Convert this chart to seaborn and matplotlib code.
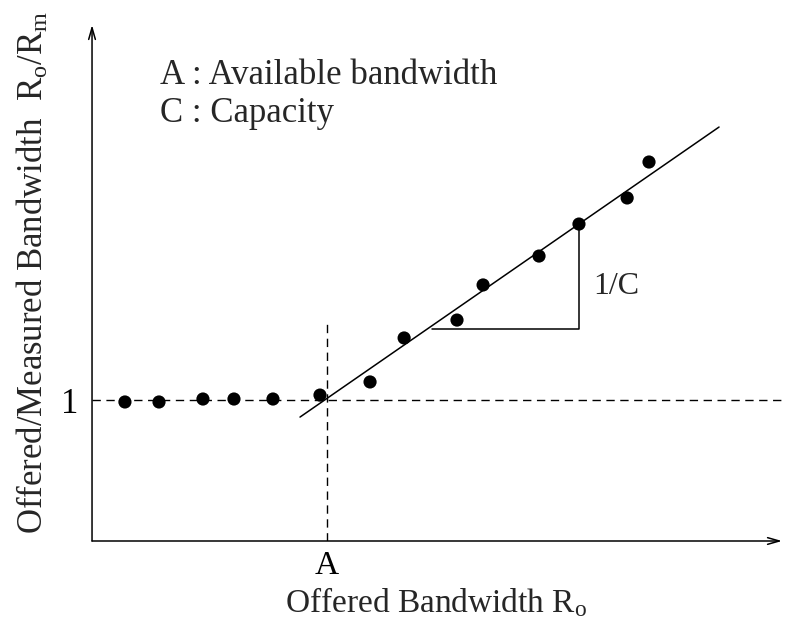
import matplotlib
matplotlib.use("Agg")
import matplotlib.pyplot as plt
import seaborn as sns
import pandas as pd

# measured points: offered rate (A = 1) vs offered/measured ratio
rate = [0.14, 0.285, 0.472, 0.604, 0.77, 0.97, 1.183, 1.328, 1.553, 1.664,
        1.902, 2.072, 2.277, 2.37]
ratio = [0.986, 0.986, 1.007, 1.007, 1.007, 1.035, 1.128, 1.44, 1.567, 1.816,
         2.021, 2.248, 2.433, 2.688]

# fitted line and slope triangle
fit_x = [0.885, 2.668]
fit_y = [0.879, 2.936]
tri_x = [1.447, 2.072, 2.072]
tri_y = [1.504, 1.504, 2.248]

# reference lines
avail_bw = 1.0
unit_ratio = 1.0

sns.set_theme(style="white")
plt.rcParams["font.family"] = ["Liberation Serif", "DejaVu Serif"]
plt.rcParams["mathtext.fontset"] = "custom"
plt.rcParams["mathtext.rm"] = "Liberation Serif"
plt.rcParams["mathtext.it"] = "Liberation Serif:italic"

fig, ax = plt.subplots(figsize=(7.92, 6.18), dpi=100)
ax.set_position([0.1162, 0.1246, 0.8712, 0.835])
ax.set_xlim(0, 2.936)
ax.set_ylim(0, 3.66)

points = pd.DataFrame({"rate": rate, "ratio": ratio})
fit = pd.DataFrame({"x": fit_x, "y": fit_y})

# dashed guide lines
ax.plot([0, 2.93], [unit_ratio, unit_ratio], color="black", lw=1.0,
        linestyle=(0, (6, 4)))
ax.plot([avail_bw, avail_bw], [0, 1.567], color="black", lw=1.0,
        linestyle=(0, (6, 4)))

sns.lineplot(data=fit, x="x", y="y", color="black", lw=1.1, ax=ax)
ax.plot(tri_x, tri_y, color="black", lw=1.1)
sns.scatterplot(data=points, x="rate", y="ratio", color="black", s=90,
                edgecolor="none", ax=ax, zorder=3)

# axes drawn as arrows
for sp in ax.spines.values():
    sp.set_visible(False)
arrow = dict(arrowstyle="->, head_length=0.7, head_width=0.2", lw=1.1,
             color="black", shrinkA=0, shrinkB=0)
ax.annotate("", xy=(1.0, 0), xytext=(0, 0), xycoords="axes fraction",
            arrowprops=arrow)
ax.annotate("", xy=(0, 1.0), xytext=(0, 0), xycoords="axes fraction",
            arrowprops=arrow)

ax.set_xticks([avail_bw])
ax.set_xticklabels(["A"], fontsize=24)
ax.set_yticks([unit_ratio])
ax.set_yticklabels(["1"], fontsize=25)
ax.tick_params(length=0, pad=10, colors="black")
ax.tick_params(axis="x", pad=7)

ax.set_xlabel(r"Offered Bandwidth R$_\mathrm{o}$", fontsize=24)
ax.set_ylabel(r"Offered/Measured Bandwidth  R$_\mathrm{o}$/R$_\mathrm{m}$",
              fontsize=25)
ax.xaxis.set_label_coords(0.498, -0.086)
ax.yaxis.set_label_coords(-0.060, 0.521)

ax.text(0.289, 3.241, "A : Available bandwidth", fontsize=25, va="baseline")
ax.text(0.289, 2.972, "C : Capacity", fontsize=25, va="baseline")
ax.text(2.132, 1.752, "1/C", fontsize=23, va="baseline")

fig.savefig("out.png", dpi=100)
